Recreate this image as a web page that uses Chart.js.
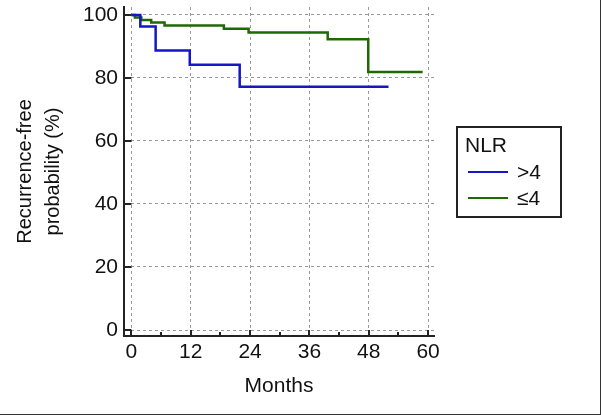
<!DOCTYPE html>
<html>
<head>
<meta charset="utf-8">
<script src="https://cdn.jsdelivr.net/npm/chart.js@4/dist/chart.umd.min.js"></script>
<style>
  body { margin: 0; background: #fff; }
  #wrap { position: relative; width: 600px; height: 414px; border-right: 1px solid #333; border-bottom: 1px solid #333; }
  #legend { position: absolute; left: 456px; top: 126px; width: 106px; height: 92px; box-sizing: border-box;
            border: 2px solid #222; font: 21px "Liberation Sans", Arial, sans-serif; color: #111; }
  #legend .t { position: absolute; line-height: 24px; }
  #legend .ln { position: absolute; left: 10px; width: 40px; height: 2px; }
</style>
</head>
<body>
<div id="wrap">
  <canvas id="chartID" width="600" height="414"></canvas>
  <div id="legend"></div>
</div>
<script>
// Kaplan-Meier steps (months, % recurrence-free)
const highMonths = [0, 1.8, 4.9, 11.8, 21.9, 52]
const highSurv = [100, 96.3, 88.7, 84.2, 77.2, 77.2]
const lowMonths = [0, 0.7, 2.0, 4.0, 6.7, 18.7, 23.7, 39.7, 47.9, 58.9]
const lowSurv = [100, 99.2, 98.4, 97.6, 96.6, 95.6, 94.4, 92.3, 81.9, 81.9]

const seriesNames = ['>4', '\u22644']
const seriesColors = ['#1616c8', '#1e6a00']
const xTicks = [0, 12, 24, 36, 48, 60]
const xMinorTicks = [6, 18, 30, 42, 54]
const yTicks = [0, 20, 40, 60, 80, 100]

Chart.defaults.font.family = '"Liberation Sans", Arial, sans-serif'
Chart.defaults.font.size = 21
Chart.defaults.color = '#111'

function toPoints(xs, ys) {
	return xs.map(function(x, i) { return {x: x, y: ys[i]} })
}

// short inward ticks from the axis lines up to the zero gridlines
const innerTicks = {
	id: 'innerTicks',
	afterDatasetsDraw(chart) {
		const ctx = chart.ctx
		const xs = chart.scales.x
		const ys = chart.scales.y
		const area = chart.chartArea
		ctx.save()
		ctx.strokeStyle = '#222'
		ctx.lineWidth = 2
		ctx.beginPath()
		yTicks.forEach(function(v) {
			const py = Math.round(ys.getPixelForValue(v))
			ctx.moveTo(area.left, py)
			ctx.lineTo(xs.getPixelForValue(0), py)
		})
		xTicks.forEach(function(v) {
			const px = Math.round(xs.getPixelForValue(v))
			ctx.moveTo(px, area.bottom)
			ctx.lineTo(px, ys.getPixelForValue(0))
		})
		xMinorTicks.forEach(function(v) {
			const px = Math.round(xs.getPixelForValue(v))
			ctx.moveTo(px, area.bottom)
			ctx.lineTo(px, area.bottom - 4)
		})
		ctx.stroke()
		ctx.restore()
	}
}

const data = {
	datasets: [
		{
			label: seriesNames[0],
			data: toPoints(highMonths, highSurv),
			borderColor: seriesColors[0],
			backgroundColor: seriesColors[0],
			borderWidth: 2.5,
			stepped: true,
			pointRadius: 0,
			fill: false,
		},
		{
			label: seriesNames[1],
			data: toPoints(lowMonths, lowSurv),
			borderColor: seriesColors[1],
			backgroundColor: seriesColors[1],
			borderWidth: 2.5,
			stepped: true,
			pointRadius: 0,
			fill: false,
		},
	],
}

const gridOpts = { color: '#9a9a9a', lineWidth: 1, drawTicks: false }
const borderOpts = { color: '#222', width: 2, dash: [3, 3] }

let chartCtx = document.getElementById('chartID').getContext('2d')
let kmChart = new Chart(chartCtx, {
	type: 'line',
	data: data,
	options: {
		responsive: false,
		animation: false,
		devicePixelRatio: 1,
		layout: { padding: { top: 7, right: 166, left: 0, bottom: 0 } },
		plugins: { legend: { display: false }, tooltip: { enabled: false } },
		scales: {
			x: {
				type: 'linear',
				min: -1.5,
				max: 61.2,
				grid: gridOpts,
				border: borderOpts,
				ticks: { padding: 4, autoSkip: false, maxRotation: 0 },
				title: { display: true, text: 'Months', padding: { top: 0, bottom: 15 } },
				afterBuildTicks(axis) { axis.ticks = xTicks.map(function(v) { return {value: v} }) },
				afterFit(axis) { axis.height = 78; axis.paddingLeft = 0; axis.paddingRight = 0 },
			},
			y: {
				type: 'linear',
				min: -1.9,
				max: 102.5,
				grid: gridOpts,
				border: borderOpts,
				ticks: { padding: 6, autoSkip: false },
				title: {
					display: true,
					text: ['Recurrence-free', 'probability (%)'],
					font: { size: 20, lineHeight: 1.4 },
					padding: { top: 11, bottom: 0 },
				},
				afterBuildTicks(axis) { axis.ticks = yTicks.map(function(v) { return {value: v} }) },
				afterFit(axis) { axis.width = 124; axis.paddingTop = 0; axis.paddingBottom = 0 },
			},
		},
	},
	plugins: [innerTicks],
})

// boxed legend built from the datasets
const legend = document.getElementById('legend')
legend.innerHTML = '<div class="t" style="left:7px;top:5px">NLR</div>'
kmChart.data.datasets.forEach(function(ds, i) {
	const lineTop = 43 + i * 26
	legend.innerHTML += '<div class="ln" style="top:' + lineTop + 'px;background:' + ds.borderColor + '"></div>' +
		'<div class="t" style="left:59px;top:' + (lineTop - 11) + 'px">' + ds.label.replace('>', '&gt;') + '</div>'
})
</script>
</body>
</html>
